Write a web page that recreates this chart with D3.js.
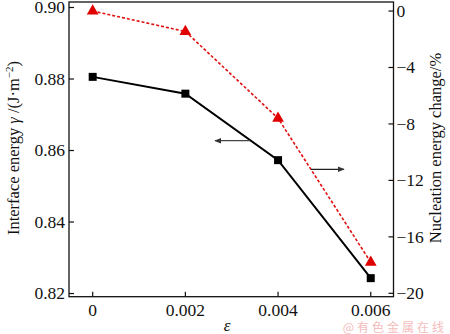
<!DOCTYPE html>
<html>
<head>
<meta charset="utf-8">
<script src="https://cdn.jsdelivr.net/npm/d3@7/dist/d3.min.js"></script>
<style>
  html, body { margin: 0; padding: 0; background: #fff; }
  svg { display: block; }
</style>
</head>
<body>
<svg id="chart" width="450" height="334"></svg>
<script>
// Strain values and the two measured series
const strain = [0, 0.002, 0.004, 0.006];
const interfaceEnergy = [0.8806, 0.8759, 0.8573, 0.8243];
const nucleationChange = [0.0, -1.45, -7.6, -17.8];

const xTicks = [0, 0.002, 0.004, 0.006];
const xTickLabels = ["0", "0.002", "0.004", "0.006"];
const leftTicks = [0.82, 0.84, 0.86, 0.88, 0.90];
const rightTicks = [0, -4, -8, -12, -16, -20];

const serif = "'Liberation Serif', 'Times New Roman', Times, 'DejaVu Serif', serif";

const svg = d3.select("#chart")
  .attr("font-family", serif)
  .style("font-family", serif);
const plot = { left: 69, right: 393.5, top: 2, bottom: 296.7 };

const x = d3.scaleLinear().domain([-0.000511, 0.006491]).range([plot.left, plot.right]);
const yL = d3.scaleLinear().domain([0.81911, 0.90154]).range([plot.bottom, plot.top]);
const yR = d3.scaleLinear().domain([-20.24, 0.64]).range([plot.bottom, plot.top]);

function txt(sel) {
  return sel.append("text").style("font-family", serif).attr("fill", "#111");
}

// Frame
svg.append("rect")
  .attr("x", plot.left).attr("y", plot.top)
  .attr("width", plot.right - plot.left).attr("height", plot.bottom - plot.top)
  .attr("fill", "none").attr("stroke", "#111").attr("stroke-width", 1.3);

const fs = 17.5;

// Bottom axis (ticks point inward)
const gx = svg.append("g");
xTicks.forEach((t, i) => {
  gx.append("line").attr("x1", x(t)).attr("x2", x(t))
    .attr("y1", plot.bottom).attr("y2", plot.bottom - 5)
    .attr("stroke", "#111").attr("stroke-width", 1.2);
  txt(gx).attr("x", x(t)).attr("y", plot.bottom + 19)
    .attr("text-anchor", "middle").attr("font-size", fs).text(xTickLabels[i]);
});

// Left axis
const gl = svg.append("g");
leftTicks.forEach(t => {
  gl.append("line").attr("x1", plot.left).attr("x2", plot.left + 5)
    .attr("y1", yL(t)).attr("y2", yL(t))
    .attr("stroke", "#111").attr("stroke-width", 1.2);
  txt(gl).attr("x", plot.left - 4).attr("y", yL(t))
    .attr("dy", "0.33em").attr("text-anchor", "end").attr("font-size", fs)
    .text(d3.format(".2f")(t));
});

// Right axis
const gr = svg.append("g");
rightTicks.forEach(t => {
  gr.append("line").attr("x1", plot.right).attr("x2", plot.right - 5)
    .attr("y1", yR(t)).attr("y2", yR(t))
    .attr("stroke", "#111").attr("stroke-width", 1.2);
  txt(gr).attr("x", plot.right + 3).attr("y", yR(t))
    .attr("dy", "0.33em").attr("text-anchor", "start").attr("font-size", fs)
    .text(t < 0 ? "\u2212" + Math.abs(t) : String(t));
});

// Axis titles
const lt = txt(svg)
  .attr("transform", "translate(19,148) rotate(-90)")
  .attr("text-anchor", "middle").attr("font-size", 16.5);
lt.append("tspan").text("Interface energy ");
lt.append("tspan").attr("font-style", "italic").text("\u03b3");
lt.append("tspan").text(" /(J\u00b7m");
lt.append("tspan").attr("dy", -6).attr("font-size", 11).text("\u22122");
lt.append("tspan").attr("dy", 6).text(")");

txt(svg)
  .attr("transform", "translate(441,148) rotate(-90)")
  .attr("text-anchor", "middle").attr("font-size", 16.5)
  .text("Nucleation energy change/%");

txt(svg).attr("x", 227).attr("y", 331)
  .attr("text-anchor", "middle").attr("font-size", 17)
  .attr("font-style", "italic").text("\u03b5");

// Interface energy series (black, solid, squares)
const lineL = d3.line().x((d, i) => x(strain[i])).y(d => yL(d));
svg.append("path").datum(interfaceEnergy)
  .attr("d", lineL).attr("fill", "none")
  .attr("stroke", "#000").attr("stroke-width", 2);
svg.append("g").selectAll("path").data(interfaceEnergy).join("path")
  .attr("d", d3.symbol(d3.symbolSquare, 64))
  .attr("transform", (d, i) => `translate(${x(strain[i])},${yL(d)})`)
  .attr("fill", "#000");

// Nucleation energy change series (red, dashed, triangles)
const lineR = d3.line().x((d, i) => x(strain[i])).y(d => yR(d));
svg.append("path").datum(nucleationChange)
  .attr("d", lineR).attr("fill", "none")
  .attr("stroke", "#e01010").attr("stroke-width", 1.6)
  .attr("stroke-dasharray", "3,2");
svg.append("g").selectAll("path").data(nucleationChange).join("path")
  .attr("d", d3.symbol(d3.symbolTriangle, 60))
  .attr("transform", (d, i) => `translate(${x(strain[i])},${yR(d)})`)
  .attr("fill", "#e00000");

// Arrows pointing to the matching axis
const defs = svg.append("defs");
defs.append("marker").attr("id", "ah").attr("viewBox", "0 0 10 10")
  .attr("refX", 9).attr("refY", 5).attr("markerWidth", 7).attr("markerHeight", 7)
  .attr("markerUnits", "userSpaceOnUse").attr("orient", "auto")
  .append("path").attr("d", "M0,1 L10,5 L0,9 Z").attr("fill", "#333");

svg.append("line").attr("x1", 250).attr("y1", 140.7).attr("x2", 215).attr("y2", 140.7)
  .attr("stroke", "#444").attr("stroke-width", 1.2).attr("marker-end", "url(#ah)");
svg.append("line").attr("x1", 311).attr("y1", 169.3).attr("x2", 344).attr("y2", 169.3)
  .attr("stroke", "#222").attr("stroke-width", 1.2).attr("marker-end", "url(#ah)");

// Watermark
svg.append("text").attr("x", 447).attr("y", 332).attr("text-anchor", "end")
  .attr("font-size", 12).attr("letter-spacing", 3)
  .style("font-family", "'Noto Sans CJK SC', sans-serif")
  .attr("fill", "#f4bcbc").text("@有色金属在线");
</script>
</body>
</html>
